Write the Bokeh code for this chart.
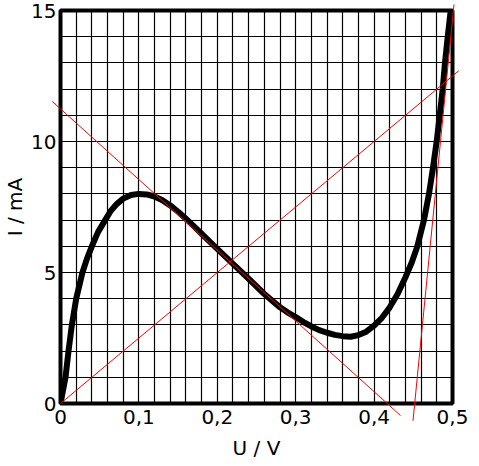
from bokeh.plotting import figure
from bokeh.models import FixedTicker, CustomJSTickFormatter
from bokeh.embed import file_html
from bokeh.resources import INLINE

# Tunnel diode characteristic: U in V, I in mA
curve_u = [0.0, 0.0032, 0.0064, 0.0102, 0.0145, 0.020, 0.028, 0.034, 0.040, 0.048,
           0.057, 0.064, 0.072, 0.080, 0.090, 0.0997, 0.110, 0.120, 0.130, 0.140,
           0.150, 0.160, 0.170, 0.180, 0.190, 0.200, 0.220, 0.240, 0.260, 0.280,
           0.290, 0.300, 0.310, 0.320, 0.330, 0.340, 0.350, 0.360, 0.370, 0.380,
           0.390, 0.400, 0.410, 0.420, 0.430, 0.440, 0.448, 0.455, 0.4636, 0.470,
           0.4751, 0.4798, 0.4837, 0.4875, 0.4904, 0.4939, 0.4977]
curve_i = [0.0, 0.5, 1.0, 2.0, 3.0, 4.0, 5.0, 5.55, 6.0, 6.55,
           7.0, 7.35, 7.62, 7.82, 7.96, 8.0, 7.98, 7.9, 7.76, 7.56,
           7.32, 7.05, 6.77, 6.48, 6.19, 5.9, 5.33, 4.76, 4.18, 3.67,
           3.47, 3.30, 3.11, 2.94, 2.80, 2.70, 2.62, 2.57, 2.55, 2.61,
           2.74, 2.97, 3.27, 3.67, 4.18, 4.82, 5.38, 5.98, 7.0, 8.0,
           9.0, 10.0, 11.0, 12.0, 13.0, 14.0, 15.0]

# red construction lines (end points)
load_u = [0.0, 0.508]
load_i = [0.0, 12.7]
tangent_u = [-0.0106, 0.4337]
tangent_i = [11.53, -0.46]
steep_u = [0.4496, 0.5019]
steep_i = [-0.66, 15.23]

x_ticks = [0.0, 0.1, 0.2, 0.3, 0.4, 0.5]
y_ticks = [0, 5, 10, 15]
x_grid = [round(0.02 * k, 2) for k in range(26)]
y_grid = list(range(16))

FONT = "DejaVu Sans"

p = figure(width=479, height=466, x_range=(0, 0.5), y_range=(0, 15),
           output_backend="svg", toolbar_location=None,
           min_border_left=60, min_border_right=27, min_border_top=10, min_border_bottom=63)
p.background_fill_color = "white"
p.border_fill_color = "white"
p.outline_line_color = "black"
p.outline_line_width = 4
p.outline_line_alpha = 1.0

p.xgrid.ticker = FixedTicker(ticks=x_grid)
p.ygrid.ticker = FixedTicker(ticks=y_grid)
for g in (p.xgrid, p.ygrid):
    g.grid_line_color = "black"
    g.grid_line_width = 1.2
    g.grid_line_alpha = 1.0

p.xaxis.ticker = FixedTicker(ticks=x_ticks)
p.yaxis.ticker = FixedTicker(ticks=y_ticks)
p.xaxis.formatter = CustomJSTickFormatter(code="""
    if (Math.abs(tick) < 1e-9) { return "0"; }
    return tick.toFixed(1).replace(".", ",");
""")
p.xaxis.axis_label = "U / V"
p.yaxis.axis_label = "I / mA"
for ax in (p.xaxis, p.yaxis):
    ax.axis_line_color = None
    ax.major_tick_line_color = None
    ax.minor_tick_line_color = None
    ax.major_tick_out = 0
    ax.major_tick_in = 0
    ax.minor_tick_out = 0
    ax.minor_tick_in = 0
    ax.major_label_text_font = FONT
    ax.major_label_text_font_size = "20px"
    ax.major_label_text_color = "black"
    ax.axis_label_text_font = FONT
    ax.axis_label_text_font_size = "20px"
    ax.axis_label_text_font_style = "normal"
    ax.axis_label_text_color = "black"
p.xaxis.major_label_standoff = 6
p.xaxis.axis_label_standoff = 9
p.yaxis.major_label_standoff = 4
p.yaxis.axis_label_standoff = 1

p.line(curve_u, curve_i, line_color="black", line_width=6, line_join="round", line_cap="round")

for xs, ys in ((load_u, load_i), (tangent_u, tangent_i), (steep_u, steep_i)):
    p.line(xs, ys, line_color="red", line_width=1, level="overlay")

open("out.html", "w").write(file_html(p, INLINE))
